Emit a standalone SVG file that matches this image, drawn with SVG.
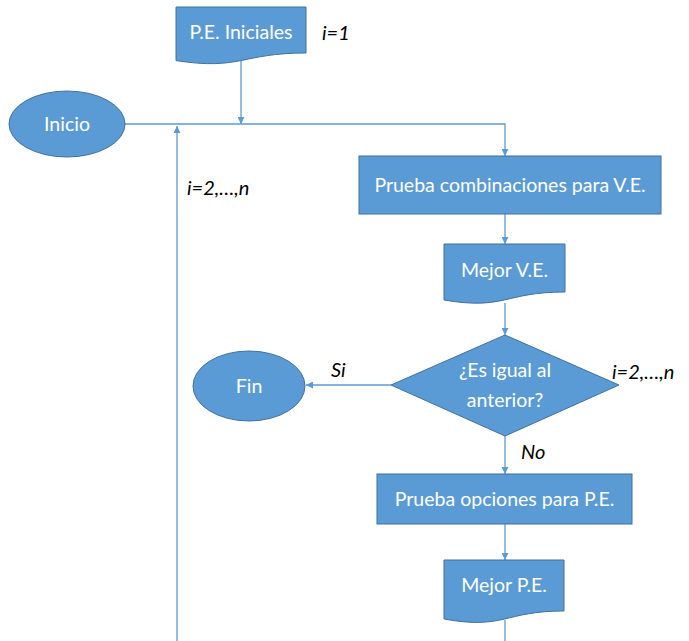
<svg xmlns="http://www.w3.org/2000/svg" width="689" height="641" viewBox="0 0 689 641">
<defs>
<marker id="arr" viewBox="0 0 10 10" refX="10" refY="5" markerWidth="7" markerHeight="7" markerUnits="userSpaceOnUse" orient="auto">
<path d="M0,0 L10,5 L0,10 z" fill="#5B9BD5"/>
</marker>
<style>
.shape{fill:#5B9BD5;stroke:#41719C;stroke-width:1}
.t{fill:#ffffff;font-family:Lato,"Open Sans",sans-serif;font-size:19.5px;text-anchor:middle}
.lbl{fill:#000000;font-family:Lato,"Open Sans",sans-serif;font-size:20px;font-style:italic}
.c{fill:none;stroke:#5B9BD5;stroke-width:1.3}
</style>
</defs>
<rect width="689" height="641" fill="#ffffff"/>
<g id="connectors">
<path class="c" d="M241,61 V124" marker-end="url(#arr)"/>
<path class="c" d="M125,124 H505 V156" marker-end="url(#arr)"/>
<path class="c" d="M177,641 V126" marker-end="url(#arr)"/>
<path class="c" d="M505,214 V244" marker-end="url(#arr)"/>
<path class="c" d="M505,303 V335" marker-end="url(#arr)"/>
<path class="c" d="M391,385 H306" marker-end="url(#arr)"/>
<path class="c" d="M505,436 V474" marker-end="url(#arr)"/>
<path class="c" d="M505,524 V560" marker-end="url(#arr)"/>
<path class="c" d="M505,620 V641"/>
</g>
<g id="pe-iniciales">
<path class="shape" d="M176,7 H306 V53 C241,53 241,70.6 176,60.6 Z"/>
<text class="t" x="241" y="39">P.E. Iniciales</text>
</g>
<text class="lbl" x="322" y="40">i=1</text>
<g id="inicio">
<ellipse class="shape" cx="67" cy="124" rx="58" ry="33"/>
<text class="t" x="67" y="131">Inicio</text>
</g>
<text class="lbl" x="187" y="195">i=2,…,n</text>
<g id="prueba-comb">
<rect class="shape" x="359" y="156" width="302" height="58"/>
<text class="t" x="510" y="192">Prueba combinaciones para V.E.</text>
</g>
<g id="mejor-ve">
<path class="shape" d="M444,244 H565 V292 C504.5,292 504.5,310.4 444,300 Z"/>
<text class="t" x="504.5" y="277">Mejor V.E.</text>
</g>
<g id="decision">
<path class="shape" d="M505,335 L619,385 L505,436 L391,385 Z"/>
<text class="t" x="505" y="377">¿Es igual al</text>
<text class="t" x="505" y="407">anterior?</text>
</g>
<text class="lbl" x="331" y="377">Si</text>
<text class="lbl" x="612" y="379">i=2,…,n</text>
<text class="lbl" x="521" y="459">No</text>
<g id="fin">
<ellipse class="shape" cx="249" cy="386" rx="56" ry="35"/>
<text class="t" x="249" y="393">Fin</text>
</g>
<g id="prueba-opc">
<rect class="shape" x="377" y="474" width="255" height="50"/>
<text class="t" x="504.5" y="506">Prueba opciones para P.E.</text>
</g>
<g id="mejor-pe">
<path class="shape" d="M444,560 H564 V611 C504,611 504,630 444,619 Z"/>
<text class="t" x="504" y="592">Mejor P.E.</text>
</g>
</svg>
